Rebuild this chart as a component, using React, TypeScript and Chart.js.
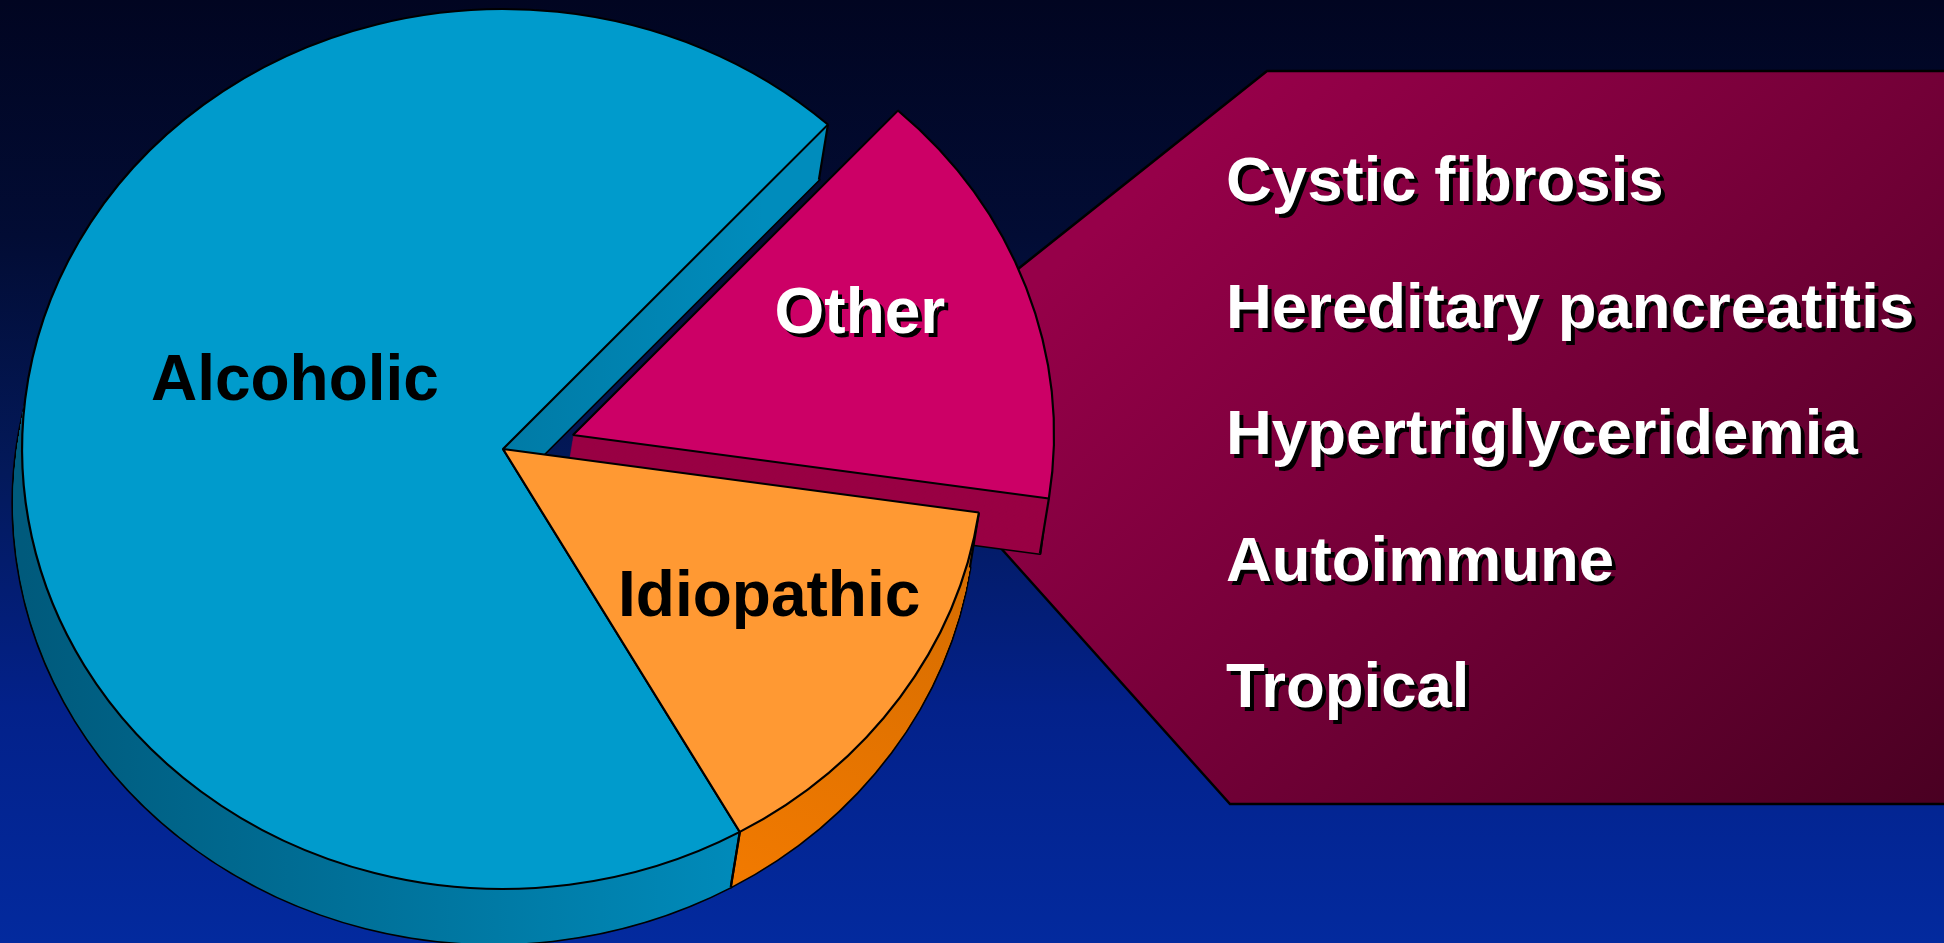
import React, { useEffect, useRef } from "react";
import { Chart, registerables } from "chart.js";

Chart.register(...registerables);

// ---------- data ----------
const CATEGORIES = ["Alcoholic", "Other", "Idiopathic"];
const VALUES = [70, 15.5, 14.5];
const OTHER_CAUSES = [
  "Cystic fibrosis",
  "Hereditary pancreatitis",
  "Hypertriglyceridemia",
  "Autoimmune",
  "Tropical",
];

// ---------- layout / style ----------
const W = 1944;
const H = 943;
const CX = 503;
const CY = 449;
const R = 440;
const SX = 1.093; // horizontal stretch of the tilted pie
const ROTATION = 150.5;
const DEPTH = [-9, 55]; // screen px of the 3D extrusion
const SIDE_ORDER = [1, 2, 0]; // painter's order for the side walls
const EXPLODE = [
  [0, 0],
  [70, -14],
  [0, 0],
];
const TOP_COLORS = ["#009BCC", "#CC0066", "#FF9933"];
const LABEL_COLORS = ["#000000", "#FFFFFF", "#000000"];
const LABEL_SHADOW = [false, true, false];
const LABEL_ANGLE_SHIFT = [14.2, -5.9, -3.8];
const LABEL_RFRAC = [0.4625, 0.661, 0.643];
const FONT = "bold 64px 'Liberation Sans', Arial, Helvetica, sans-serif";
const LIST_FONT = "bold 63.5px 'Liberation Sans', Arial, Helvetica, sans-serif";
const LIST_X = 1226;
const LIST_Y0 = 201;
const LIST_DY = 126.5;
const CALLOUT = [
  [862, 393],
  [1267, 71],
  [W + 4, 71],
  [W + 4, 804],
  [1230, 804],
];

function sideFill(ctx: CanvasRenderingContext2D, i: number): CanvasGradient | string {
  if (i === 0) {
    const g = ctx.createLinearGradient(CX - 480 / SX, 0, CX + 260 / SX, 0);
    g.addColorStop(0, "#005a7c");
    g.addColorStop(1, "#008cbc");
    return g;
  }
  if (i === 1) return "#990044";
  const g = ctx.createLinearGradient(CX + 460 / SX, 500, CX + 230 / SX, 890);
  g.addColorStop(0, "#d26b00");
  g.addColorStop(1, "#f27a00");
  return g;
}

const pie3d = {
  id: "pie3d",
  beforeDraw(chart: any) {
    const ctx: CanvasRenderingContext2D = chart.ctx;
    ctx.save();
    const bg = ctx.createLinearGradient(0, 0, 0, H);
    bg.addColorStop(0, "#010521");
    bg.addColorStop(0.25, "#020c34");
    bg.addColorStop(0.5, "#03195a");
    bg.addColorStop(0.75, "#03218a");
    bg.addColorStop(1, "#032a9e");
    ctx.fillStyle = bg;
    ctx.fillRect(0, 0, W, H);

    ctx.beginPath();
    CALLOUT.forEach(([x, y], k) => (k === 0 ? ctx.moveTo(x, y) : ctx.lineTo(x, y)));
    ctx.closePath();
    const cg = ctx.createLinearGradient(1267, 71, 1944, 804);
    cg.addColorStop(0, "#960049");
    cg.addColorStop(1, "#4a0022");
    ctx.fillStyle = cg;
    ctx.fill();
    ctx.lineWidth = 2.5;
    ctx.strokeStyle = "#000";
    ctx.stroke();
    ctx.restore();
  },
  beforeDatasetsDraw(chart: any) {
    const ctx: CanvasRenderingContext2D = chart.ctx;
    const arcs = chart.getDatasetMeta(0).data;
    if (!arcs.length) return false;
    const cx = arcs[0].x;
    const cy = arcs[0].y;
    ctx.save();
    ctx.translate(cx, cy);
    ctx.scale(SX, 1);
    ctx.translate(-cx, -cy);
    const dx = DEPTH[0] / SX;
    const dy = DEPTH[1];
    const steps = Math.ceil(Math.hypot(dx, dy));
    const path = (a: any, ox: number, oy: number) => {
      ctx.beginPath();
      ctx.moveTo(a.x + ox, a.y + oy);
      ctx.arc(a.x + ox, a.y + oy, a.outerRadius, a.startAngle, a.endAngle);
      ctx.closePath();
    };
    ctx.lineJoin = "round";
    SIDE_ORDER.forEach((i: number) => {
      const a = arcs[i];
      if (!a) return;
      const ex = EXPLODE[i][0] / SX;
      const ey = EXPLODE[i][1];
      ctx.strokeStyle = "#000";
      ctx.lineWidth = 3;
      path(a, ex + dx, ey + dy);
      ctx.stroke();
      ctx.fillStyle = sideFill(ctx, i);
      for (let s = steps; s >= 0; s--) {
        const t = s / steps;
        path(a, ex + dx * t, ey + dy * t);
        ctx.fill();
      }
    });
    ctx.strokeStyle = "#000";
    ctx.lineWidth = 2;
    arcs.forEach((a: any, i: number) => {
      const ex = EXPLODE[i][0] / SX;
      const ey = EXPLODE[i][1];
      [a.startAngle, a.endAngle].forEach((ang: number) => {
        const px = a.x + ex + Math.cos(ang) * a.outerRadius;
        const py = a.y + ey + Math.sin(ang) * a.outerRadius;
        ctx.beginPath();
        ctx.moveTo(px, py);
        ctx.lineTo(px + dx, py + dy);
        ctx.stroke();
      });
    });
    arcs.forEach((a: any, i: number) => {
      ctx.save();
      ctx.translate(EXPLODE[i][0] / SX, EXPLODE[i][1]);
      a.draw(ctx);
      ctx.restore();
    });
    ctx.restore();
    return false;
  },
  afterDraw(chart: any) {
    const ctx: CanvasRenderingContext2D = chart.ctx;
    const arcs = chart.getDatasetMeta(0).data;
    ctx.save();
    ctx.font = FONT;
    ctx.textAlign = "center";
    ctx.textBaseline = "alphabetic";
    arcs.forEach((a: any, i: number) => {
      const mid = (a.startAngle + a.endAngle) / 2 + (LABEL_ANGLE_SHIFT[i] * Math.PI) / 180;
      const r = LABEL_RFRAC[i] * a.outerRadius;
      const x = a.x + EXPLODE[i][0] + SX * r * Math.cos(mid);
      const y = a.y + EXPLODE[i][1] + r * Math.sin(mid) + 23;
      const label = chart.data.labels[i];
      if (LABEL_SHADOW[i]) {
        ctx.fillStyle = "#000";
        ctx.fillText(label, x + 4, y + 4);
      }
      ctx.fillStyle = LABEL_COLORS[i];
      ctx.fillText(label, x, y);
    });
    ctx.font = LIST_FONT;
    ctx.textAlign = "left";
    OTHER_CAUSES.forEach((t, k) => {
      const y = LIST_Y0 + k * LIST_DY;
      ctx.fillStyle = "#000";
      ctx.fillText(t, LIST_X + 4, y + 4);
      ctx.fillStyle = "#fff";
      ctx.fillText(t, LIST_X, y);
    });
    ctx.restore();
  },
};

export default function App() {
  const ref = useRef<HTMLCanvasElement | null>(null);
  useEffect(() => {
    document.body.style.margin = "0";
    document.body.style.background = "#010521";
    const canvas = ref.current;
    if (!canvas) return;
    const chart = new Chart(canvas, {
      type: "pie",
      data: {
        labels: CATEGORIES,
        datasets: [
          {
            data: VALUES,
            backgroundColor: TOP_COLORS,
            borderColor: "#000000",
            borderWidth: 2,
          },
        ],
      },
      options: {
        responsive: false,
        animation: false,
        devicePixelRatio: 1,
        radius: R,
        rotation: ROTATION,
        events: [],
        layout: { padding: { left: 0, top: 0, right: W - 2 * CX, bottom: H - 2 * CY } },
        plugins: { legend: { display: false }, tooltip: { enabled: false } },
      } as any,
      plugins: [pie3d],
    });
    return () => chart.destroy();
  }, []);
  return (
    <div style={{ width: W, height: H, overflow: "hidden" }}>
      <canvas ref={ref} width={W} height={H} style={{ display: "block", width: W, height: H }} />
    </div>
  );
}
